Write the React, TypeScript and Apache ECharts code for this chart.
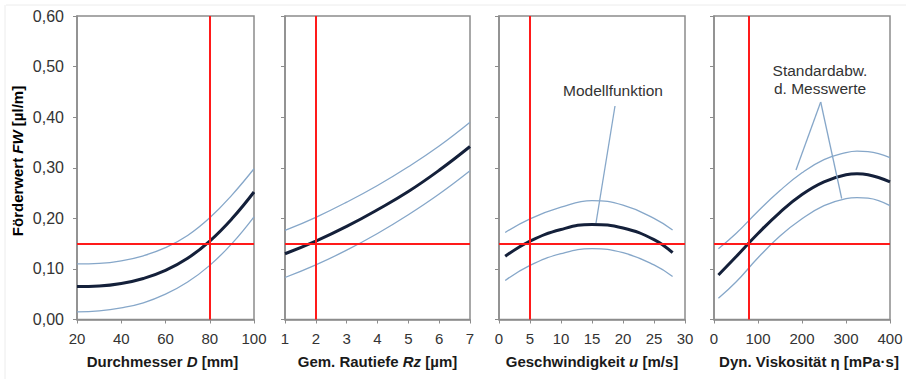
import React, { useEffect, useRef } from "react";
import * as echarts from "echarts";

// ---- Data ----
const dX = [20, 30, 40, 50, 60, 70, 80, 90, 100];
const dMean = [0.065, 0.066, 0.071, 0.081, 0.097, 0.121, 0.155, 0.199, 0.252];
const dUpper = [0.11, 0.111, 0.116, 0.126, 0.142, 0.166, 0.201, 0.246, 0.298];
const dLower = [0.015, 0.017, 0.023, 0.033, 0.05, 0.074, 0.107, 0.15, 0.203];

const rzX = [1, 2, 3, 4, 5, 6, 7];
const rzMean = [0.13, 0.155, 0.184, 0.217, 0.253, 0.295, 0.342];
const rzUpper = [0.176, 0.202, 0.232, 0.265, 0.302, 0.343, 0.39];
const rzLower = [0.083, 0.108, 0.137, 0.17, 0.207, 0.248, 0.294];

const uX = [1, 5, 10, 15, 20, 25, 28];
const uMean = [0.125, 0.155, 0.178, 0.188, 0.181, 0.158, 0.132];
const uUpper = [0.172, 0.199, 0.222, 0.235, 0.226, 0.2, 0.177];
const uLower = [0.077, 0.107, 0.13, 0.14, 0.132, 0.108, 0.085];

const etaX = [10, 50, 100, 150, 200, 250, 300, 325, 350, 400];
const etaMean = [0.088, 0.124, 0.17, 0.212, 0.247, 0.272, 0.286, 0.288, 0.286, 0.272];
const etaUpper = [0.14, 0.17, 0.214, 0.255, 0.29, 0.316, 0.33, 0.333, 0.332, 0.32];
const etaLower = [0.042, 0.074, 0.122, 0.165, 0.199, 0.225, 0.239, 0.241, 0.24, 0.225];

const refY = 0.155;
const refX = [80, 2, 5, 80];

const xMins = [20, 1, 0, 0];
const xMaxs = [100, 7, 30, 400];
const xIntervals = [20, 1, 5, 100];
const yTicks = ["0,00", "0,10", "0,20", "0,30", "0,40", "0,50", "0,60"];

const xNames = [
  ["Durchmesser ", "D", " [mm]"],
  ["Gem. Rautiefe ", "Rz", " [µm]"],
  ["Geschwindigkeit ", "u", " [m/s]"],
  ["Dyn. Viskosität η [mPa·s]", "", ""],
];
const yName = ["Förderwert ", "FW", " [µl/m]"];
const annoModel = "Modellfunktion";
const annoStd = ["Standardabw.", "d. Messwerte"];

const panels = [
  { x: dX, mean: dMean, upper: dUpper, lower: dLower },
  { x: rzX, mean: rzMean, upper: rzUpper, lower: rzLower },
  { x: uX, mean: uMean, upper: uUpper, lower: uLower },
  { x: etaX, mean: etaMean, upper: etaUpper, lower: etaLower },
];

// ---- Layout / style ----
const FONT = "'Liberation Sans', Arial, sans-serif";
const gridPos = [
  { left: 77, width: 177 },
  { left: 285, width: 185 },
  { left: 499, width: 186 },
  { left: 714, width: 176 },
];
const GRID_TOP = 16;
const GRID_H = 303.5;
const FRAME = "#8c8c8c";
const MEAN_C = "#14203a";
const STD_C = "#86a7c9";
const RED = "#ff1a1a";

export default function App() {
  const ref = useRef<HTMLDivElement>(null);

  useEffect(() => {
    if (!ref.current) return;
    const chart = echarts.init(ref.current, undefined, { renderer: "svg" });

    const richName = {
      b: { fontFamily: FONT, fontSize: 15, fontWeight: "bold", color: "#1a1a1a" },
      bi: { fontFamily: FONT, fontSize: 15, fontWeight: "bold", fontStyle: "italic", color: "#1a1a1a" },
    };

    const grids = gridPos.map((g) => ({
      left: g.left,
      width: g.width,
      top: GRID_TOP,
      height: GRID_H,
      show: true,
      borderColor: FRAME,
      borderWidth: 1.5,
      backgroundColor: "#fff",
    }));

    const xAxes = panels.map((_, i) => {
      const n = xNames[i];
      const nm = n[1]
        ? `{b|${n[0]}}{bi|${n[1]}}{b|${n[2]}}`
        : `{b|${n[0]}}`;
      return {
        type: "value",
        gridIndex: i,
        min: xMins[i],
        max: xMaxs[i],
        interval: xIntervals[i],
        splitLine: { show: false },
        axisLine: { show: true, lineStyle: { color: FRAME, width: 1.5 } },
        axisTick: { show: true, length: 4, lineStyle: { color: FRAME } },
        axisLabel: { fontFamily: FONT, fontSize: 15, color: "#333", margin: 11 },
        name: nm,
        nameLocation: "middle",
        nameGap: 34,
        nameTextStyle: { rich: richName, padding: i === 3 ? [0, 0, 0, 14] : i === 0 ? [0, 6, 0, 0] : 0 },
      };
    });

    const yAxes = panels.map((_, i) => ({
      type: "value",
      gridIndex: i,
      min: 0,
      max: 0.6,
      interval: 0.1,
      splitLine: { show: false },
      axisLine: { show: true, lineStyle: { color: FRAME, width: 1.5 } },
      axisTick: { show: true, length: 4, lineStyle: { color: FRAME } },
      axisLabel: {
        show: i === 0,
        fontFamily: FONT,
        fontSize: 16,
        color: "#333",
        margin: 13,
        formatter: (v: number) => yTicks[Math.round(v * 10)] ?? "",
      },
    }));

    const series: any[] = [];
    panels.forEach((p, i) => {
      const mk = (ys: number[]) => p.x.map((x, k) => [x, ys[k]]);
      series.push({
        type: "line", xAxisIndex: i, yAxisIndex: i, data: mk(p.upper),
        smooth: 0.45, showSymbol: false, lineStyle: { color: STD_C, width: 1.3 }, z: 2,
      });
      series.push({
        type: "line", xAxisIndex: i, yAxisIndex: i, data: mk(p.lower),
        smooth: 0.45, showSymbol: false, lineStyle: { color: STD_C, width: 1.3 }, z: 2,
      });
      series.push({
        type: "line", xAxisIndex: i, yAxisIndex: i, data: mk(p.mean),
        smooth: 0.45, showSymbol: false, lineStyle: { color: MEAN_C, width: 3 }, z: 3,
      });
      series.push({
        type: "line", xAxisIndex: i, yAxisIndex: i, data: [],
        z: 5,
        markLine: {
          silent: true,
          symbol: "none",
          label: { show: false },
          lineStyle: { color: RED, width: 2, type: "solid" },
          data: [{ xAxis: refX[i] }, { yAxis: refY }],
          z: 5,
        },
      });
    });

    const leader = { stroke: STD_C, lineWidth: 1.3 };
    const graphic: any[] = [
      { type: "line", shape: { x1: 6, y1: 5, x2: 906, y2: 5 }, style: { stroke: "#ececec", lineWidth: 1 }, silent: true },
      { type: "line", shape: { x1: 5, y1: 5, x2: 5, y2: 379 }, style: { stroke: "#ececec", lineWidth: 1 }, silent: true },
      {
        type: "text",
        x: 17,
        y: 161,
        rotation: Math.PI / 2,
        style: {
          text: `{b|${yName[0]}}{bi|${yName[1]}}{b|${yName[2]}}`,
          rich: richName,
          align: "center",
          verticalAlign: "middle",
        },
        z: 10,
      },
      {
        type: "text",
        x: 613,
        y: 90,
        style: { text: annoModel, fontFamily: FONT, fontSize: 15.5, fill: "#333", align: "center", verticalAlign: "middle" },
        z: 10,
      },
      { type: "line", shape: { x1: 615, y1: 106, x2: 596, y2: 223 }, style: leader, z: 10 },
      {
        type: "text",
        x: 820,
        y: 79,
        style: {
          text: annoStd.join("\n"),
          fontFamily: FONT,
          fontSize: 15.5,
          lineHeight: 18,
          fill: "#333",
          align: "center",
          verticalAlign: "middle",
        },
        z: 10,
      },
      { type: "line", shape: { x1: 820.7, y1: 102, x2: 796, y2: 170 }, style: leader, z: 10 },
      { type: "line", shape: { x1: 820.7, y1: 102, x2: 841.7, y2: 198.5 }, style: leader, z: 10 },
    ];

    chart.setOption({
      animation: false,
      backgroundColor: "#fff",
      grid: grids,
      xAxis: xAxes,
      yAxis: yAxes,
      series,
      graphic,
    });

    return () => chart.dispose();
  }, []);

  return (
    <div
      ref={ref}
      style={{ position: "fixed", left: 0, top: 0, width: 906, height: 379, background: "#fff" }}
    />
  );
}
